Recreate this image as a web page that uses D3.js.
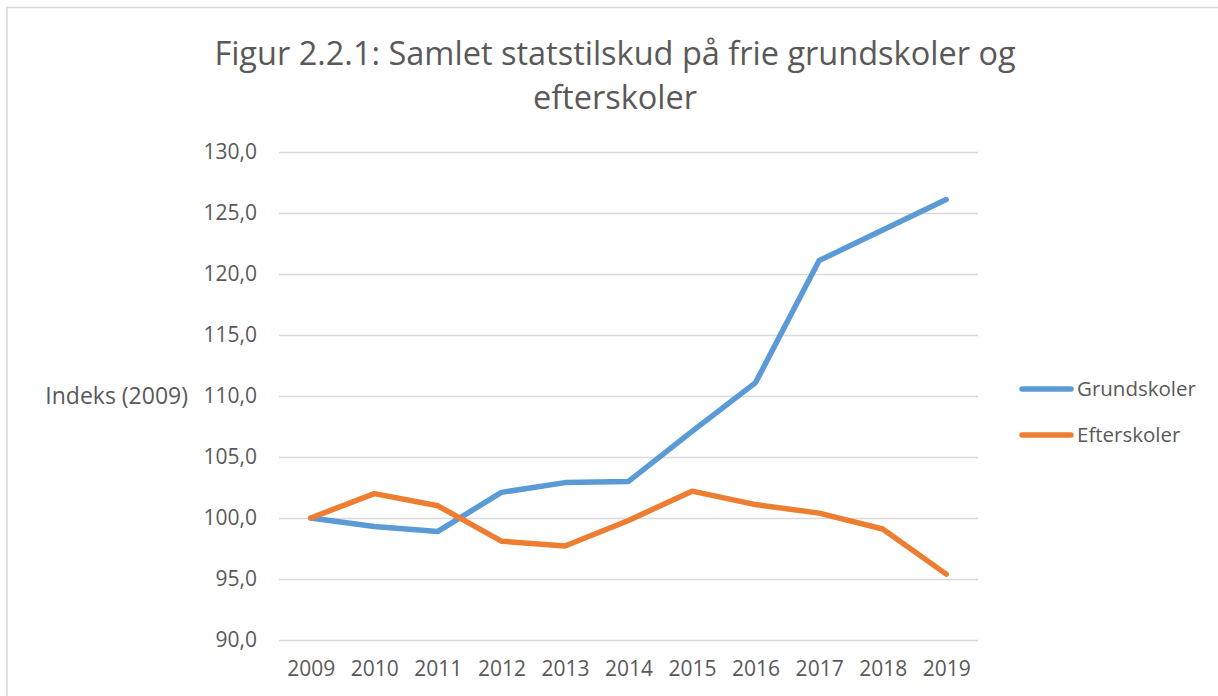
<!DOCTYPE html>
<html>
<head>
<meta charset="utf-8">
<script src="https://cdn.jsdelivr.net/npm/d3@7"></script>
<style>
  body { margin: 0; background: #fff; }
  svg { display: block; font-family: "Open Sans", sans-serif; }
</style>
</head>
<body>
<svg id="chart"></svg>
<script>
const width = 1218;
const height = 696;

const years = ["2009", "2010", "2011", "2012", "2013", "2014", "2015", "2016", "2017", "2018", "2019"];
const grundskoler = [100.0, 99.3, 98.9, 102.1, 102.9, 103.0, 107.1, 111.1, 121.1, 123.6, 126.1];
const efterskoler = [100.0, 102.0, 101.0, 98.1, 97.7, 99.8, 102.2, 101.1, 100.4, 99.1, 95.4];
const yTicks = [90, 95, 100, 105, 110, 115, 120, 125, 130];
const seriesNames = ["Grundskoler", "Efterskoler"];
const colors = ["#5b9bd5", "#ed7d31"];

const plot = { left: 279, right: 978, top: 152, bottom: 640 };

const svg = d3.select("#chart")
  .attr("width", width)
  .attr("height", height);

// chart frame
svg.append("rect")
  .attr("x", 7)
  .attr("y", 7.5)
  .attr("width", width)
  .attr("height", height)
  .attr("fill", "#fff")
  .attr("stroke", "#d9d9d9")
  .attr("stroke-width", 1.5);

const x = d3.scalePoint()
  .domain(years)
  .range([plot.left, plot.right])
  .padding(0.5);

const y = d3.scaleLinear()
  .domain([90, 130])
  .range([plot.bottom, plot.top]);

// gridlines + y labels
const yAxis = svg.append("g")
  .attr("transform", `translate(${plot.left},0)`)
  .call(d3.axisLeft(y)
    .tickValues(yTicks)
    .tickSize(-(plot.right - plot.left))
    .tickPadding(22)
    .tickFormat(d => d3.format(".1f")(d).replace(".", ",")));
yAxis.select(".domain").remove();
yAxis.selectAll(".tick line")
  .attr("stroke", "#d9d9d9")
  .attr("stroke-width", 1.5);
yAxis.selectAll(".tick text")
  .attr("fill", "#595959")
  .style("font-size", "21px")
  .style("font-family", "'Open Sans', sans-serif");

// x labels
const xAxis = svg.append("g")
  .attr("transform", `translate(0,${plot.bottom})`)
  .call(d3.axisBottom(x).tickSize(0).tickPadding(21));
xAxis.select(".domain").remove();
xAxis.selectAll(".tick text")
  .attr("fill", "#595959")
  .style("font-size", "21px")
  .style("font-family", "'Open Sans', sans-serif");

// lines
const line = d3.line()
  .x((d, i) => x(years[i]))
  .y(d => y(d));

[grundskoler, efterskoler].forEach((values, k) => {
  svg.append("path")
    .datum(values)
    .attr("fill", "none")
    .attr("stroke", colors[k])
    .attr("stroke-width", 5.5)
    .attr("stroke-linecap", "round")
    .attr("stroke-linejoin", "round")
    .attr("d", line);
});

// title
const title = svg.append("text")
  .attr("x", 615)
  .attr("text-anchor", "middle")
  .attr("fill", "#595959")
  .style("font-size", "32.5px");
title.append("tspan").attr("x", 615).attr("y", 65)
  .text("Figur 2.2.1: Samlet statstilskud på frie grundskoler og");
title.append("tspan").attr("x", 615).attr("y", 109)
  .text("efterskoler");

// y axis title
svg.append("text")
  .attr("x", 188)
  .attr("y", y(110) + 8)
  .attr("text-anchor", "end")
  .attr("fill", "#595959")
  .style("font-size", "23px")
  .text("Indeks (2009)");

// legend
const legend = svg.append("g")
  .selectAll("g")
  .data(seriesNames)
  .join("g")
  .attr("transform", (d, i) => `translate(1022,${389 + i * 46})`);
legend.append("line")
  .attr("x1", 0).attr("x2", 49)
  .attr("stroke", (d, i) => colors[i])
  .attr("stroke-width", 5.5)
  .attr("stroke-linecap", "round");
legend.append("text")
  .attr("x", 55)
  .attr("y", 7)
  .attr("fill", "#595959")
  .style("font-size", "20.5px")
  .text(d => d);
</script>
</body>
</html>
